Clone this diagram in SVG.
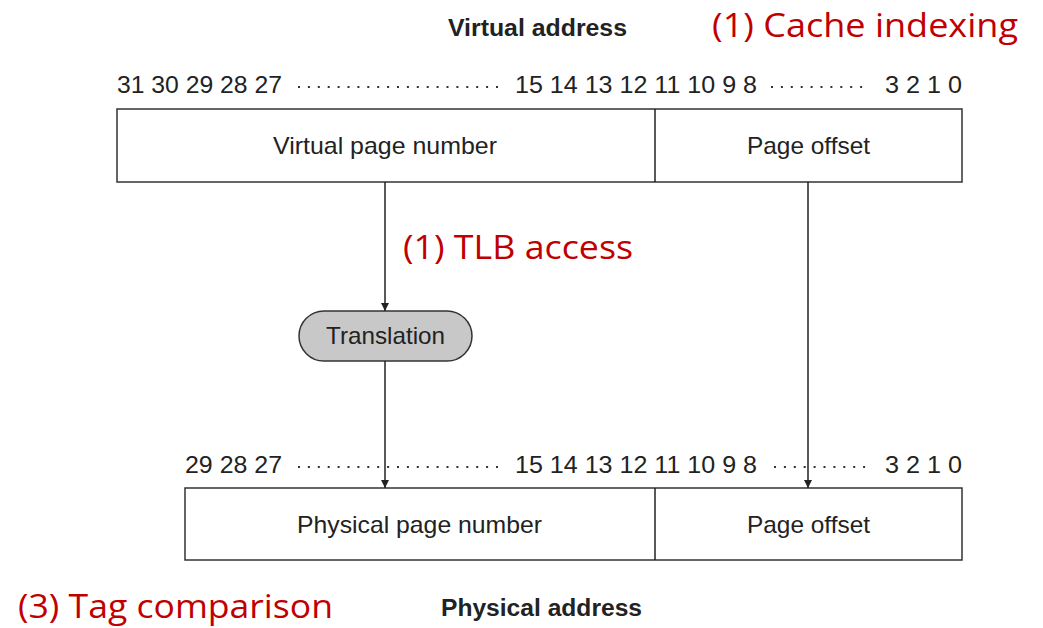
<svg xmlns="http://www.w3.org/2000/svg" width="1043" height="628" viewBox="0 0 1043 628">
  <defs>
    <marker id="arrow" viewBox="0 0 8 14" refX="8" refY="7" markerWidth="8" markerHeight="14" markerUnits="userSpaceOnUse" orient="auto">
      <path d="M0,3 L8,7 L0,11 Z" fill="#222"/>
    </marker>
    <style>
      .box { fill: #fff; stroke: #333; stroke-width: 1.5; }
      .lbl { font-family: "Liberation Sans", Arial, sans-serif; font-size: 24px; fill: #222; }
      .bits { font-family: "Liberation Sans", Arial, sans-serif; font-size: 24px; fill: #222; }
      .title { font-family: "Liberation Sans", Arial, sans-serif; font-size: 23px; font-weight: bold; fill: #222; }
      .note { font-family: "Open Sans", "Noto Sans", sans-serif; font-size: 33px; fill: #c00000; }
      .dots { stroke: #333; stroke-width: 2; stroke-dasharray: 2 7.9; }
      .conn { stroke: #222; stroke-width: 1.5; fill: none; }
    </style>
  </defs>

  <rect width="1043" height="628" fill="#fff"/>

  <!-- headings -->
  <text class="title" x="448" y="36" textLength="179" lengthAdjust="spacingAndGlyphs">Virtual address</text>
  <text class="title" x="441" y="616" textLength="201" lengthAdjust="spacingAndGlyphs">Physical address</text>

  <!-- step notes -->
  <text class="note" x="712" y="37" textLength="306" lengthAdjust="spacingAndGlyphs">(1) Cache indexing</text>
  <text class="note" x="403" y="259" textLength="230" lengthAdjust="spacingAndGlyphs">(1) TLB access</text>
  <text class="note" x="18" y="618" textLength="315" lengthAdjust="spacingAndGlyphs">(3) Tag comparison</text>

  <!-- virtual address bit numbering -->
  <g id="virtual-bits">
    <text class="bits" x="117" y="93" textLength="165" lengthAdjust="spacingAndGlyphs">31 30 29 28 27</text>
    <line class="dots" x1="298" y1="87" x2="498" y2="87"/>
    <text class="bits" x="515" y="93" textLength="242" lengthAdjust="spacingAndGlyphs">15 14 13 12 11 10 9 8</text>
    <line class="dots" x1="771" y1="87" x2="870" y2="87"/>
    <text class="bits" x="885" y="93" textLength="77" lengthAdjust="spacingAndGlyphs">3 2 1 0</text>
  </g>

  <!-- virtual address fields -->
  <g id="virtual-address">
    <rect class="box" x="117" y="109" width="845" height="73"/>
    <line class="conn" x1="655" y1="109" x2="655" y2="182"/>
    <text class="lbl" x="273" y="154" textLength="224" lengthAdjust="spacingAndGlyphs">Virtual page number</text>
    <text class="lbl" x="747" y="154" textLength="123" lengthAdjust="spacingAndGlyphs">Page offset</text>
  </g>

  <!-- translation step -->
  <g id="translation">
    <rect x="299" y="311" width="173" height="50" rx="25" ry="25" fill="#c8c8c8" stroke="#333" stroke-width="1.5"/>
    <text class="lbl" x="326" y="344" textLength="119" lengthAdjust="spacingAndGlyphs">Translation</text>
  </g>

  <!-- physical address bit numbering -->
  <g id="physical-bits">
    <text class="bits" x="185" y="473" textLength="97" lengthAdjust="spacingAndGlyphs">29 28 27</text>
    <line class="dots" x1="298" y1="467" x2="498" y2="467"/>
    <text class="bits" x="515" y="473" textLength="242" lengthAdjust="spacingAndGlyphs">15 14 13 12 11 10 9 8</text>
    <line class="dots" x1="774" y1="467" x2="873" y2="467"/>
    <text class="bits" x="885" y="473" textLength="77" lengthAdjust="spacingAndGlyphs">3 2 1 0</text>
  </g>

  <!-- physical address fields -->
  <g id="physical-address">
    <rect class="box" x="185" y="488" width="777" height="72"/>
    <line class="conn" x1="655" y1="488" x2="655" y2="560"/>
    <text class="lbl" x="297" y="533" textLength="245" lengthAdjust="spacingAndGlyphs">Physical page number</text>
    <text class="lbl" x="747" y="533" textLength="123" lengthAdjust="spacingAndGlyphs">Page offset</text>
  </g>

  <!-- connectors -->
  <g id="connectors">
    <line class="conn" x1="385" y1="182" x2="385" y2="311" marker-end="url(#arrow)"/>
    <line class="conn" x1="385" y1="361" x2="385" y2="488" marker-end="url(#arrow)"/>
    <line class="conn" x1="808" y1="182" x2="808" y2="488" marker-end="url(#arrow)"/>
  </g>
</svg>
